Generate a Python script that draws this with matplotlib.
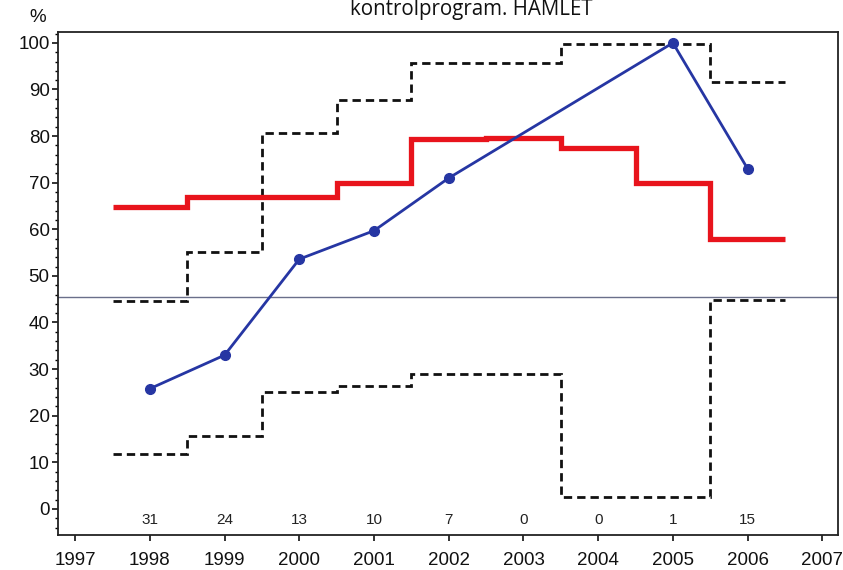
import matplotlib
matplotlib.use("Agg")
import matplotlib.pyplot as plt
import numpy as np
from matplotlib.ticker import MultipleLocator

years = [1998, 1999, 2000, 2001, 2002, 2003, 2004, 2005, 2006]
observed_years = [1998, 1999, 2000, 2001, 2002, 2005, 2006]
observed_pct = [25.8, 33.0, 53.6, 59.7, 71.0, 100.0, 73.0]
red_step = [64.8, 66.9, 66.9, 70.0, 79.3, 79.6, 77.5, 70.0, 57.9]
upper_ci = [44.6, 55.2, 80.7, 87.8, 95.7, 95.7, 99.8, 99.8, 91.7]
lower_ci = [11.8, 15.7, 25.1, 26.4, 29.0, 29.0, 2.6, 2.6, 44.8]
counts = ["31", "24", "13", "10", "7", "0", "0", "1", "15"]
ref_level = 45.5
xticks = list(range(1997, 2008))
yticks = list(range(0, 101, 10))

tick_font = ["Liberation Sans", "DejaVu Sans"]

fig = plt.figure(figsize=(8.43, 5.70), dpi=100)
ax = fig.add_axes([58/843, 1-535/570, (838-58)/843, (535-31.7)/570])

edges = np.concatenate([np.array(years) - 0.5, [years[-1] + 0.5]])

ax.axhline(ref_level, color="#6a6f8a", lw=1.0, zorder=1)
ax.stairs(upper_ci, edges, baseline=None, color="#111111", lw=2.0,
          linestyle=(0, (3.0, 1.8)), zorder=2)
ax.stairs(lower_ci, edges, baseline=None, color="#111111", lw=2.0,
          linestyle=(0, (3.0, 1.8)), zorder=2)
ax.stairs(red_step, edges, baseline=None, color="#e8141c", lw=3.8, zorder=3)
ax.plot(observed_years, observed_pct, color="#2636a3", lw=2.0, marker="o",
        markersize=7, zorder=4)

for x, c in zip(years, counts):
    ax.text(x, -2.4, c, ha="center", va="center", fontsize=11,
            color="#222222", family=tick_font)

ax.set_xlim(1996.77, 2007.21)
ax.set_ylim(-5.6, 102.4)
ax.set_xticks(xticks)
ax.set_yticks(yticks)
ax.yaxis.set_minor_locator(MultipleLocator(2))
ax.tick_params(axis="both", which="major", direction="out", length=4.5,
               width=1.2, labelsize=13.5, colors="#111111")
ax.tick_params(axis="y", which="minor", direction="out", length=2.5, width=1.0)
ax.tick_params(axis="x", pad=8)
ax.tick_params(axis="y", pad=1.5)
for lab in ax.get_xticklabels() + ax.get_yticklabels():
    lab.set_family(tick_font)

for s in ax.spines.values():
    s.set_linewidth(1.3)
    s.set_color("#222222")

fig.text(38/843, 1-18/570, "%", ha="center", va="center", fontsize=13.5,
         family=tick_font, color="#111111")
fig.text(471/843, 1-9/570, "kontrolprogram. HAMLET", ha="center",
         va="center", fontsize=14.8, family=["Open Sans", "DejaVu Sans"],
         color="#111111")

fig.savefig("out.png", dpi=100)
